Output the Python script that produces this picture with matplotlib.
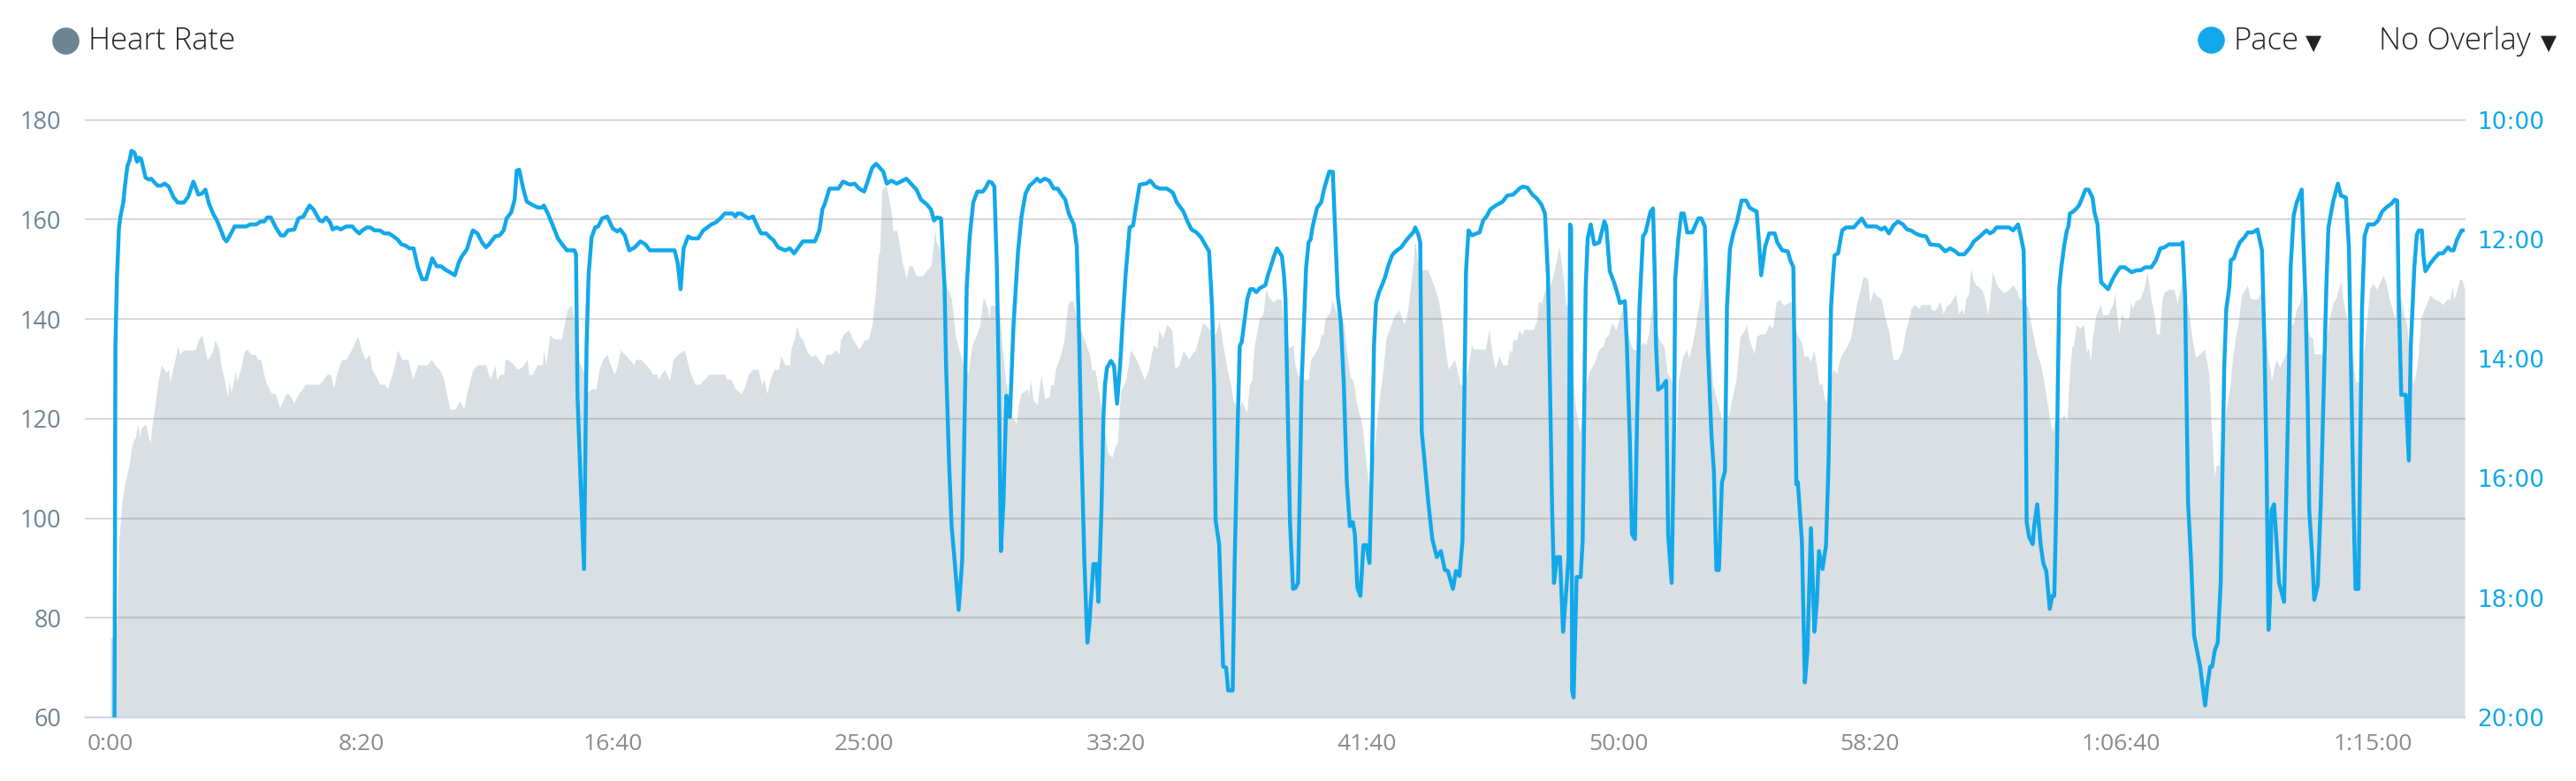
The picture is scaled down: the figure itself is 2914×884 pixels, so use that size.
import matplotlib
matplotlib.use("Agg")
import matplotlib.pyplot as plt
from matplotlib.lines import Line2D

# heart rate (s from start, bpm) -- grey area, left axis
heart_rate = [
    (1, 75.9), (11, 75.9), (14, 80.4), (18, 95.4), (24, 103.2), (30, 107.1), (39, 111.1), (43, 114.2),
    (48, 115.8), (51, 116.2), (55, 118.9), (60, 116.2), (62, 118.1), (71, 118.9), (80, 115.0), (83, 118.1),
    (89, 122.1), (95, 126.8), (102, 130.8), (112, 129.3), (117, 129.9), (119, 127.2), (127, 130.7), (135, 134.6),
    (139, 133.0), (147, 133.8), (170, 133.8), (176, 135.8), (183, 136.8), (188, 134.2), (193, 132.1), (197, 132.1),
    (205, 133.8), (209, 135.8), (217, 134.0), (221, 130.8), (228, 127.6), (234, 124.4), (238, 127.6), (241, 125.2),
    (250, 129.5), (253, 127.6), (262, 130.7), (266, 133.2), (272, 134.0), (281, 132.9), (289, 132.9), (294, 131.9),
    (300, 131.9), (309, 127.6), (320, 125.2), (329, 125.0), (338, 122.2), (350, 125.0), (356, 125.0), (366, 123.2),
    (375, 125.0), (382, 125.8), (388, 126.9), (416, 126.9), (423, 127.7), (432, 128.9), (439, 128.9), (445, 126.1),
    (451, 129.1), (461, 131.9), (470, 131.9), (482, 134.2), (493, 136.6), (499, 134.0), (508, 131.9), (516, 132.9),
    (521, 129.9), (528, 128.7), (537, 126.9), (546, 126.9), (552, 126.0), (561, 128.9), (567, 131.1), (572, 133.8),
    (581, 131.9), (593, 131.9), (602, 127.9), (612, 130.8), (631, 130.8), (640, 131.9), (646, 130.8), (655, 129.9),
    (663, 128.3), (676, 121.9), (686, 121.9), (696, 123.6), (704, 121.9), (710, 125.2), (716, 127.6), (722, 129.9),
    (731, 130.8), (740, 130.8),
    (748, 130.8), (756, 127.9), (766, 130.7), (769, 127.9), (776, 128.9), (783, 128.9), (786, 131.9), (791, 131.9),
    (801, 131.1), (810, 129.9), (819, 130.3), (830, 131.9), (833, 128.9), (840, 128.9), (850, 130.8), (860, 130.8),
    (863, 133.7), (867, 130.8), (875, 136.8), (883, 136.0), (898, 136.0), (909, 141.8), (918, 142.9), (924, 139.3),
    (933, 131.5), (943, 129.3), (949, 125.2), (958, 126.0), (967, 126.0), (973, 129.9), (980, 131.9), (989, 132.9),
    (993, 131.5), (1003, 128.9), (1010, 130.8), (1015, 133.8), (1027, 132.6), (1043, 130.8), (1045, 131.9), (1056, 131.9),
    (1074, 129.9), (1079, 128.9), (1088, 128.9), (1090, 127.9), (1103, 129.9), (1113, 127.7), (1120, 131.9), (1129, 132.9),
    (1143, 133.8), (1153, 129.5), (1164, 126.9), (1173, 126.9), (1191, 128.9), (1223, 128.9), (1226, 127.9), (1235, 127.9),
    (1244, 126.0), (1255, 125.0), (1261, 126.0), (1270, 128.9), (1278, 129.9), (1289, 129.9), (1296, 126.9), (1301, 127.9),
    (1307, 125.0), (1313, 127.9), (1321, 129.9), (1330, 129.9), (1334, 132.6), (1343, 130.8), (1352, 130.8), (1355, 134.2),
    (1362, 136.2), (1366, 138.7), (1371, 136.6), (1378, 135.8), (1387, 133.4), (1396, 132.4), (1402, 132.9), (1418, 130.8),
    (1425, 132.9), (1434, 132.9), (1443, 133.8), (1450, 133.0), (1453, 135.8), (1460, 137.1), (1469, 137.8), (1478, 135.8),
    (1490, 134.0), (1501, 135.8), (1509, 136.0), (1516, 139.0), (1522, 144.8), (1528, 152.8), (1531, 153.5),
    (1535, 166.0), (1544, 166.8), (1550, 163.7), (1554, 161.5), (1557, 157.8), (1565, 157.8), (1572, 153.9), (1575, 151.9),
    (1584, 148.0), (1589, 150.7), (1595, 150.7), (1604, 148.7), (1616, 148.7), (1625, 149.9), (1633, 150.7), (1641, 157.8),
    (1643, 155.8), (1651, 153.9), (1657, 150.5), (1664, 146.6), (1674, 144.0), (1682, 136.2), (1689, 133.8), (1698, 130.7),
    (1707, 129.1), (1714, 134.6), (1721, 136.2), (1730, 138.7), (1737, 144.4), (1746, 142.1), (1749, 139.7), (1751, 142.8),
    (1761, 142.8), (1770, 140.7), (1776, 133.0), (1782, 127.2), (1784, 126.8), (1789, 120.9), (1803, 119.1), (1806, 122.1),
    (1812, 125.0), (1824, 126.0), (1827, 124.8), (1831, 127.6), (1836, 123.8), (1844, 122.8), (1852, 128.7), (1859, 124.0),
    (1868, 124.4), (1871, 126.8), (1877, 126.8), (1881, 130.1), (1891, 132.9), (1897, 135.4), (1905, 142.8), (1909, 143.6),
    (1915, 143.6), (1925, 139.3), (1935, 136.6), (1948, 133.0), (1953, 129.7), (1959, 129.9), (1967, 125.2), (1975, 119.7),
    (1985, 113.0), (1993, 112.2), (1999, 114.4), (2004, 115.4), (2010, 125.6), (2020, 127.6), (2030, 133.8), (2041, 131.9),
    (2051, 129.5), (2057, 127.9), (2065, 129.5), (2075, 134.8), (2083, 134.2), (2086, 137.8), (2094, 136.2), (2102, 138.9),
    (2112, 137.8), (2118, 130.1), (2126, 130.7), (2135, 133.7), (2145, 131.9), (2153, 133.2), (2159, 133.8), (2165, 136.2),
    (2174, 139.3), (2187, 137.9), (2199, 137.0), (2206, 139.7), (2214, 134.6), (2222, 129.9), (2229, 126.8), (2234, 123.6),
    (2245, 121.7), (2251, 123.5), (2261, 121.3), (2266, 126.8), (2271, 127.6), (2276, 134.6), (2286, 140.1), (2293, 140.9),
    (2299, 146.0), (2305, 144.4), (2313, 143.4), (2321, 144.0),
    (2329, 144.0), (2335, 138.9), (2343, 134.6), (2347, 134.2), (2353, 134.8), (2357, 130.7), (2364, 128.3), (2369, 133.0),
    (2375, 127.9), (2384, 127.9), (2388, 131.9), (2395, 132.9), (2404, 134.6), (2409, 136.9), (2413, 136.8), (2417, 140.1),
    (2426, 141.3), (2431, 143.9), (2436, 142.1), (2442, 140.9), (2448, 140.9), (2454, 138.9), (2460, 133.0), (2467, 128.3),
    (2473, 127.6), (2479, 123.2), (2486, 120.5), (2491, 118.3), (2498, 111.1), (2505, 105.6), (2511, 111.1), (2517, 116.6),
    (2524, 123.6), (2532, 129.9), (2538, 136.2), (2544, 137.8), (2552, 140.1), (2557, 141.1), (2564, 141.8), (2574, 138.9),
    (2581, 141.7), (2591, 150.3), (2595, 155.9), (2600, 151.9), (2608, 149.5), (2612, 149.9), (2621, 149.9), (2630, 147.6),
    (2642, 144.0), (2650, 138.9), (2657, 133.0), (2662, 129.9), (2674, 131.9), (2681, 129.1), (2685, 126.9), (2693, 126.8),
    (2700, 129.7), (2708, 134.6), (2712, 134.0), (2731, 134.0), (2735, 133.8), (2743, 137.8), (2749, 133.0), (2755, 130.1),
    (2763, 132.6), (2770, 130.8), (2779, 130.8), (2784, 134.0), (2788, 133.0), (2790, 135.8), (2798, 135.8), (2802, 137.8),
    (2809, 136.8), (2812, 137.9), (2831, 137.9), (2838, 139.7), (2841, 143.6), (2847, 143.2), (2854, 146.0), (2860, 145.6),
    (2868, 148.0), (2873, 149.9), (2882, 154.6), (2890, 148.8), (2895, 143.2), (2899, 142.5), (2904, 134.6), (2915, 122.1),
    (2923, 117.3), (2931, 122.8), (2936, 126.8), (2942, 129.5), (2952, 131.1), (2958, 133.0), (2962, 134.0), (2970, 134.6),
    (2974, 136.2), (2980, 136.8), (2987, 139.3), (2995, 137.8), (3003, 140.5), (3009, 142.5), (3015, 140.5), (3021, 136.2),
    (3028, 134.0), (3036, 133.7), (3042, 134.6), (3049, 135.4), (3054, 134.8), (3060, 136.9), (3065, 140.9), (3069, 145.2),
    (3074, 142.1), (3078, 136.6), (3084, 135.4), (3091, 134.6), (3097, 129.1), (3103, 128.3), (3108, 126.8), (3113, 112.0),
    (3119, 127.6), (3128, 132.6), (3136, 133.8), (3140, 132.2), (3146, 134.6), (3151, 137.0), (3157, 140.9), (3163, 144.8),
    (3167, 150.3), (3172, 151.1), (3177, 147.2), (3183, 134.6), (3188, 126.8), (3194, 124.4), (3200, 122.1), (3206, 119.7),
    (3213, 121.3), (3219, 120.5), (3225, 123.6), (3234, 127.6), (3238, 132.3), (3242, 136.6), (3249, 137.4), (3255, 138.9),
    (3259, 136.2), (3266, 134.2), (3270, 133.0), (3275, 136.6), (3283, 137.0), (3292, 137.0), (3300, 138.9), (3307, 138.1),
    (3314, 143.4), (3320, 143.9), (3329, 142.8), (3336, 143.2), (3343, 143.6), (3349, 139.3), (3355, 137.0), (3364, 135.4),
    (3370, 132.3), (3376, 132.7), (3382, 131.5), (3389, 133.7), (3395, 129.9), (3399, 126.8), (3405, 127.2), (3409, 124.4),
    (3413, 123.2), (3418, 126.8), (3427, 129.9), (3435, 129.1), (3439, 131.5), (3445, 133.0), (3453, 134.2), (3462, 136.2),
    (3470, 140.9), (3476, 144.0), (3481, 145.8), (3487, 148.6), (3496, 148.0), (3500, 143.2), (3507, 145.6), (3513, 144.8),
    (3523, 144.0), (3530, 140.5), (3538, 137.4), (3546, 131.9), (3556, 131.9), (3565, 133.8), (3571, 137.8), (3576, 139.3),
    (3582, 142.1), (3589, 142.9), (3599, 142.1), (3601, 142.9), (3620, 142.9), (3623, 141.8), (3630, 141.8), (3640, 143.6),
    (3646, 141.1), (3652, 142.6), (3660, 143.2), (3667, 144.4), (3671, 145.0), (3677, 141.1), (3683, 142.1), (3687, 140.9),
    (3691, 144.0), (3697, 145.2), (3701, 150.3), (3705, 148.0), (3711, 146.8), (3723, 146.0), (3729, 144.0), (3734, 140.9),
    (3738, 143.2), (3744, 149.5), (3751, 147.2), (3759, 146.0), (3767, 145.2), (3776, 146.0), (3785, 146.8), (3792, 145.8),
    (3796, 144.4), (3805, 143.6), (3814, 142.5), (3820, 139.3), (3826, 136.2), (3833, 133.0), (3840, 130.7), (3846, 127.6),
    (3851, 124.4), (3857, 120.5), (3863, 117.3), (3868, 119.7), (3875, 120.5), (3881, 119.7), (3886, 120.9), (3892, 119.3),
    (3896, 126.8), (3902, 134.6),
    (3905, 134.6), (3911, 138.9), (3918, 138.1), (3925, 138.9), (3931, 133.4), (3935, 134.2), (3939, 131.5), (3943, 136.6),
    (3950, 140.9), (3959, 142.9), (3963, 140.9), (3974, 140.9), (3984, 143.2), (3987, 145.4), (3991, 140.9), (3996, 137.0),
    (4000, 140.9), (4007, 140.1), (4015, 140.1), (4019, 143.6), (4022, 142.1), (4028, 143.6), (4037, 144.0), (4045, 146.0),
    (4052, 149.5), (4058, 144.8), (4066, 140.5), (4070, 137.0), (4076, 137.0), (4081, 144.0), (4086, 145.4), (4095, 146.0),
    (4105, 146.0), (4111, 143.2), (4116, 145.2), (4122, 148.8), (4130, 144.0), (4136, 140.1), (4142, 135.4), (4148, 132.3),
    (4156, 133.0), (4166, 134.0), (4171, 131.1), (4175, 128.3), (4180, 117.3), (4185, 108.3), (4189, 110.7), (4195, 110.7),
    (4201, 115.0), (4209, 122.1), (4217, 126.8), (4221, 131.5), (4227, 136.3), (4233, 139.3), (4239, 144.8), (4251, 146.8),
    (4256, 144.2), (4263, 144.0), (4271, 144.0), (4279, 145.6), (4285, 140.9), (4290, 133.8), (4299, 127.6), (4303, 129.9),
    (4309, 131.9), (4315, 130.3), (4322, 131.9), (4327, 133.0), (4333, 134.6), (4338, 138.7), (4343, 139.3), (4349, 142.1),
    (4355, 143.2), (4359, 146.0), (4363, 141.7), (4369, 139.3), (4375, 136.6), (4381, 136.2), (4384, 133.0), (4403, 133.0),
    (4410, 137.4), (4415, 140.5), (4421, 143.2), (4428, 144.4), (4432, 146.0), (4437, 147.6), (4441, 144.0), (4447, 140.9),
    (4453, 138.1), (4462, 130.7), (4466, 127.6), (4472, 127.2), (4478, 129.9), (4484, 134.6), (4488, 139.3), (4494, 146.0),
    (4501, 147.2), (4508, 146.0), (4514, 147.2), (4521, 148.8), (4527, 147.2), (4533, 144.2), (4539, 142.1), (4544, 140.0),
    (4549, 145.2), (4557, 144.0), (4562, 140.7), (4568, 138.9), (4573, 133.0), (4580, 126.8), (4586, 129.1), (4591, 133.0),
    (4596, 140.1), (4603, 142.1), (4614, 144.8), (4623, 144.0), (4632, 143.6), (4640, 142.9), (4648, 144.0), (4654, 144.0),
    (4658, 146.5), (4662, 144.0), (4667, 145.6), (4673, 148.0), (4678, 147.8), (4683, 146.0),
]

# pace (s from start, seconds per mile) -- blue line, right axis
pace = [
    (9, 1250), (11, 827), (14, 760), (18, 709), (21, 697), (27, 682), (30, 666), (35, 646), (39, 641), (43, 631),
    (49, 633), (54, 642), (58, 638), (62, 639), (71, 658), (78, 660), (82, 659), (89, 663), (95, 666), (102, 666),
    (109, 664), (117, 667), (127, 678), (135, 683), (147, 683), (156, 677), (166, 662), (176, 675), (183, 674), (190, 670),
    (197, 684), (206, 695), (213, 701), (221, 711), (227, 719), (232, 722), (240, 715), (248, 707), (271, 707), (279, 705),
    (291, 705), (300, 702), (307, 702), (313, 698), (320, 698), (330, 708), (340, 716), (347, 716), (354, 711), (367, 710),
    (375, 699), (385, 697), (397, 686), (405, 690), (417, 701), (423, 702), (430, 698), (438, 703), (443, 710), (451, 708),
    (459, 710), (470, 707), (482, 707), (489, 711), (496, 714), (502, 711), (511, 708), (518, 708), (526, 711), (537, 711),
    (546, 714), (555, 714), (564, 717), (572, 720), (580, 725), (587, 726), (596, 729), (604, 729), (612, 747), (621, 760),
    (629, 760), (641, 739), (650, 747), (659, 747), (666, 750), (686, 756), (694, 743), (700, 737), (710, 730), (719, 715),
    (722, 711), (731, 714), (740, 723),
    (748, 728), (754, 725), (766, 717), (775, 716), (783, 711), (789, 699), (798, 693), (805, 680), (809, 651), (814, 650),
    (822, 669), (829, 682), (839, 685), (851, 688), (860, 688), (863, 686), (871, 694), (880, 705), (891, 719), (901, 726),
    (909, 731), (924, 731), (927, 735), (930, 878), (936, 961), (943, 1051), (948, 827), (952, 756), (958, 718), (965, 708),
    (971, 707), (979, 699), (989, 697), (1000, 709), (1009, 712), (1015, 710), (1024, 716), (1033, 731), (1044, 728), (1055, 722),
    (1065, 725), (1074, 731), (1123, 731), (1129, 743), (1135, 770), (1141, 729), (1150, 717), (1157, 719), (1170, 719), (1180, 711),
    (1191, 707), (1196, 705), (1205, 703), (1214, 699), (1223, 694), (1238, 694), (1244, 697), (1248, 694), (1255, 694), (1264, 697),
    (1270, 699), (1279, 697), (1288, 707), (1295, 714), (1305, 714), (1311, 717), (1320, 721), (1329, 728), (1343, 731), (1352, 729),
    (1361, 734), (1378, 722), (1402, 722), (1411, 711), (1417, 690), (1422, 684), (1431, 669), (1449, 669), (1458, 662), (1472, 665),
    (1481, 664), (1490, 669), (1500, 672), (1507, 662), (1516, 648), (1524, 644), (1531, 648),
    (1538, 652), (1545, 664), (1554, 661), (1565, 664), (1584, 659), (1595, 665), (1604, 670), (1613, 680), (1625, 685), (1633, 690),
    (1639, 701), (1645, 698), (1653, 699), (1660, 768), (1663, 847), (1669, 945), (1674, 1008), (1680, 1043), (1688, 1092), (1695, 1043),
    (1701, 866), (1704, 768), (1710, 717), (1717, 683), (1725, 672), (1736, 672), (1742, 668), (1748, 662), (1754, 663), (1759, 667),
    (1764, 748), (1768, 866), (1772, 1033), (1777, 984), (1783, 877), (1788, 898), (1790, 898), (1797, 807), (1806, 733), (1813, 697),
    (1821, 674), (1829, 666), (1836, 663), (1844, 659), (1850, 662), (1859, 659), (1868, 661), (1877, 669), (1885, 669), (1894, 676),
    (1900, 680), (1907, 694), (1917, 705), (1923, 727), (1928, 827), (1932, 925), (1938, 1043), (1944, 1125), (1948, 1106), (1956, 1046),
    (1962, 1046), (1966, 1084), (1972, 992), (1976, 898), (1979, 866), (1983, 849), (1991, 842), (1997, 847), (2003, 885), (2009, 847),
    (2014, 804), (2020, 756), (2028, 708), (2035, 706), (2041, 686), (2048, 665), (2061, 664), (2069, 661), (2079, 667), (2088, 669),
    (2102, 669), (2114, 673), (2122, 683), (2135, 692), (2143, 702), (2151, 710), (2161, 713), (2170, 718), (2178, 725), (2186, 732),
    (2192, 788), (2196, 866), (2199, 1002), (2206, 1026), (2211, 1102), (2214, 1149), (2220, 1150), (2224, 1173), (2233, 1173), (2237, 1043),
    (2243, 906), (2247, 827), (2251, 823), (2258, 796), (2262, 780), (2268, 770), (2274, 770), (2280, 773), (2287, 769), (2298, 766),
    (2303, 756), (2309, 747), (2315, 737), (2321, 729),
    (2331, 737), (2335, 756), (2338, 780), (2343, 906), (2347, 1004), (2353, 1071), (2358, 1070), (2363, 1065), (2366, 984), (2370, 866),
    (2376, 788), (2379, 748), (2384, 723), (2388, 720), (2392, 707), (2401, 688), (2409, 683), (2415, 669), (2425, 652), (2432, 652),
    (2436, 701), (2442, 776), (2448, 803), (2454, 866), (2460, 964), (2466, 1008), (2472, 1004), (2476, 1016), (2481, 1070), (2487, 1078),
    (2493, 1027), (2499, 1027), (2505, 1045), (2510, 945), (2514, 827), (2518, 784), (2524, 773), (2530, 766), (2536, 758), (2542, 747),
    (2550, 736), (2557, 732), (2568, 728), (2575, 723), (2583, 718), (2592, 713), (2596, 708), (2602, 715), (2606, 723), (2609, 913),
    (2615, 945), (2622, 984), (2630, 1021), (2639, 1039), (2647, 1033), (2655, 1052), (2661, 1053), (2671, 1071), (2677, 1053), (2684, 1058),
    (2690, 1023), (2694, 866), (2697, 752), (2702, 711), (2709, 716), (2718, 714), (2724, 713), (2731, 701), (2738, 697), (2745, 690),
    (2756, 686), (2770, 682), (2779, 676), (2791, 675), (2803, 669), (2810, 667), (2819, 668), (2829, 675), (2838, 679), (2847, 685),
    (2854, 694), (2860, 756), (2864, 866), (2868, 984), (2872, 1065), (2878, 1039), (2884, 1039), (2890, 1114), (2895, 1082), (2901, 1039),
    (2904, 705), (2906, 709), (2908, 1173), (2911, 1180), (2917, 1059), (2925, 1059), (2929, 1023), (2935, 768), (2939, 719), (2945, 705),
    (2952, 725), (2962, 723), (2972, 702), (2976, 707), (2983, 752), (2992, 764), (2999, 776), (3003, 784), (3013, 782), (3017, 827),
    (3023, 925), (3027, 1016), (3033, 1021), (3037, 906), (3042, 788), (3049, 717), (3054, 713), (3064, 692), (3069, 689), (3072, 748),
    (3075, 827), (3079, 871), (3087, 868), (3095, 862), (3099, 1016), (3106, 1065), (3111, 906), (3113, 760),
    (3119, 721), (3125, 694), (3130, 694), (3137, 713), (3147, 713), (3159, 699), (3165, 699), (3172, 707), (3178, 827), (3185, 915),
    (3190, 953), (3195, 1052), (3200, 1052), (3206, 964), (3212, 953), (3216, 788), (3222, 729), (3229, 713), (3236, 702), (3245, 681),
    (3254, 681), (3261, 688), (3267, 690), (3275, 692), (3280, 725), (3284, 756), (3292, 727), (3300, 714), (3311, 714), (3316, 723),
    (3326, 731), (3337, 732), (3342, 741), (3348, 748), (3351, 866), (3354, 966), (3357, 964), (3365, 1023), (3371, 1165), (3376, 1133),
    (3383, 1010), (3390, 1114), (3395, 1082), (3399, 1033), (3406, 1051), (3413, 1027), (3418, 945), (3423, 788), (3427, 756), (3430, 736),
    (3437, 734), (3445, 711), (3453, 708), (3468, 708), (3477, 703), (3484, 699), (3494, 707), (3513, 707), (3523, 710), (3530, 708),
    (3538, 714), (3547, 706), (3556, 702), (3566, 705), (3574, 710), (3582, 711), (3591, 714), (3600, 716), (3612, 717), (3620, 725),
    (3638, 726), (3650, 732), (3660, 729), (3670, 732), (3677, 735), (3688, 735), (3700, 728), (3707, 722), (3717, 718), (3732, 711),
    (3739, 714), (3746, 712), (3752, 708), (3777, 708), (3785, 711), (3795, 705), (3800, 716), (3806, 731), (3810, 866), (3812, 1004),
    (3817, 1019), (3824, 1026), (3827, 1008), (3833, 986), (3836, 1004), (3840, 1027), (3845, 1045), (3851, 1053), (3858, 1091), (3863, 1078),
    (3867, 1078), (3871, 984), (3874, 866), (3877, 768), (3881, 748), (3887, 725), (3892, 711), (3895, 707), (3898, 694), (3905, 692),
    (3911, 689), (3916, 686), (3922, 679), (3929, 670), (3935, 670), (3943, 678), (3947, 693), (3953, 705), (3960, 763), (3974, 770),
    (3984, 759), (3991, 753), (3998, 748), (4007, 748), (4021, 753), (4031, 751), (4039, 751), (4048, 748), (4060, 748), (4069, 741),
    (4078, 729), (4086, 728), (4095, 725), (4119, 725), (4122, 723), (4127, 776), (4133, 984), (4139, 1043), (4145, 1118), (4157, 1149),
    (4163, 1173), (4167, 1188), (4171, 1169), (4177, 1149), (4181, 1149), (4186, 1133), (4192, 1125), (4198, 1064), (4201, 964), (4205, 847),
    (4209, 790), (4215, 768), (4218, 741), (4224, 739), (4230, 730), (4236, 723), (4245, 718), (4252, 713), (4262, 713), (4271, 710),
    (4280, 731), (4285, 827), (4289, 945), (4293, 1112), (4296, 1082), (4299, 992), (4304, 986), (4308, 1016), (4314, 1065), (4324, 1084),
    (4328, 984), (4333, 866), (4337, 748), (4343, 696), (4349, 683), (4353, 678), (4359, 670), (4362, 717), (4367, 788), (4371, 886),
    (4374, 992), (4379, 1031), (4384, 1082), (4391, 1067), (4397, 984), (4403, 866), (4408, 768), (4412, 709), (4416, 697), (4422, 681),
    (4431, 664), (4437, 676), (4447, 678), (4453, 729), (4457, 847), (4462, 984), (4466, 1071), (4472, 1071), (4476, 906), (4479, 788),
    (4484, 717), (4491, 705), (4503, 705), (4511, 701), (4519, 692), (4527, 688), (4538, 684), (4544, 680), (4549, 681), (4552, 780),
    (4557, 876), (4566, 876), (4572, 942), (4576, 827), (4583, 748), (4588, 715), (4592, 711), (4598, 711), (4601, 736), (4605, 752),
    (4615, 744), (4623, 739), (4632, 734), (4640, 734), (4650, 728), (4656, 731), (4661, 731), (4668, 720), (4677, 711), (4683, 711),
]

x_ticks = [0, 500, 1000, 1500, 2000, 2500, 3000, 3500, 4000, 4500]
x_labels = ["0:00", "8:20", "16:40", "25:00", "33:20", "41:40", "50:00", "58:20", "1:06:40", "1:15:00"]
hr_ticks = [60, 80, 100, 120, 140, 160, 180]
pace_ticks = [600, 720, 840, 960, 1080, 1200]
pace_labels = ["10:00", "12:00", "14:00", "16:00", "18:00", "20:00"]

HR_COLOR = "#6d8493"
PACE_COLOR = "#12a8ea"

hr_t, hr_v = zip(*heart_rate)
pace_t, pace_v = zip(*pace)

W, H = 2914, 884
fig = plt.figure(figsize=(W / 100, H / 100), dpi=100)
ax = fig.add_axes([97 / W, 1 - 812 / H, (2788 - 97) / W, (812 - 135.7) / H])

ax.fill_between(hr_t, 60, hr_v, color=HR_COLOR, alpha=0.26, linewidth=0, zorder=2)
ax.set_xlim(-48, 4683)
ax.set_ylim(60, 180)
ax.set_yticks(hr_ticks)
ax.set_xticks(x_ticks)
ax.set_xticklabels(x_labels)
ax.yaxis.grid(True, color="#d8d8d8", linewidth=1.5, zorder=1)
ax.set_axisbelow(True)
for gl in ax.get_ygridlines():
    gl.set_clip_on(False)
for s in ["top", "right", "left"]:
    ax.spines[s].set_visible(False)
ax.spines["bottom"].set_color("#ccd6eb")
ax.spines["bottom"].set_linewidth(1.6)
ax.spines["bottom"].set_zorder(3)
ax.tick_params(axis="y", length=0, pad=20, labelsize=19.5, labelcolor="#6e8494")
ax.tick_params(axis="x", length=0, pad=13, labelsize=19, labelcolor="#8a8a8a")
for lab in ax.get_xticklabels() + ax.get_yticklabels():
    lab.set_family("Open Sans")

ax2 = ax.twinx()
ax2.plot(pace_t, pace_v, color=PACE_COLOR, linewidth=3.2, solid_joinstyle="round", solid_capstyle="round")
ax2.set_ylim(1200, 600)
ax2.set_xlim(-48, 4683)
ax2.set_yticks(pace_ticks)
ax2.set_yticklabels(pace_labels)
for s in ax2.spines.values():
    s.set_visible(False)
ax2.tick_params(axis="y", length=0, pad=10, labelsize=19, labelcolor=PACE_COLOR)
for lab in ax2.get_yticklabels():
    lab.set_family("DejaVu Sans")

# legend / header
head = dict(fontsize=25, family="Open Sans", weight="light", color="#222222", va="center", ha="left")
arrow = dict(fontsize=17, family="DejaVu Sans", color="#222222", va="center", ha="center")
fig.add_artist(Line2D([74 / W], [1 - 46 / H], marker="o", markersize=21, color=HR_COLOR,
                      linestyle="none", transform=fig.transFigure))
fig.text(100 / W, 1 - 47 / H, "Heart Rate", **head)
fig.add_artist(Line2D([2501 / W], [1 - 45 / H], marker="o", markersize=21, color=PACE_COLOR,
                      linestyle="none", transform=fig.transFigure))
fig.text(2526 / W, 1 - 47 / H, "Pace", **head)
fig.text(2617 / W, 1 - 49 / H, "\u25bc", **arrow)
fig.text(2691 / W, 1 - 47 / H, "No Overlay", **head)
fig.text(2883 / W, 1 - 49 / H, "\u25bc", **arrow)

fig.savefig("out.png", dpi=100)
